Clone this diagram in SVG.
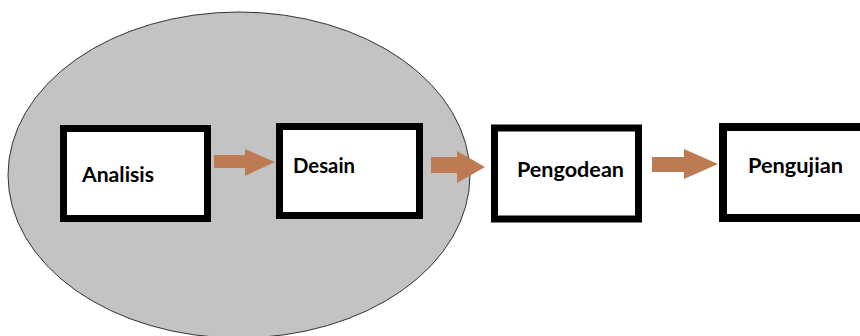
<svg xmlns="http://www.w3.org/2000/svg" width="860" height="336" viewBox="0 0 860 336">
<style>
.box{fill:#fff;stroke:#000;stroke-width:7}
.lbl{font-family:Lato,"Open Sans","Liberation Sans",sans-serif;font-weight:bold;font-size:21px;fill:#000}
.arr{fill:#be7a52}
</style>
<rect width="860" height="336" fill="#fff"/>
<g id="scope">
<ellipse cx="239" cy="175" rx="231" ry="163" fill="#c3c3c3" stroke="#333" stroke-width="1"/>
</g>
<g id="connectors">
<polygon class="arr" points="214,155 245,155 245,149 275,162 245,176 245,168 214,168"/>
<polygon class="arr" points="431,157 457,157 457,151 485,167 457,183 457,173 431,173"/>
<polygon class="arr" points="652,157 684,157 684,149 718,164 684,179 684,172 652,172"/>
</g>
<g id="analisis">
<rect class="box" x="63.5" y="128.5" width="144" height="90"/>
<text class="lbl" x="82" y="182" textLength="72" lengthAdjust="spacingAndGlyphs">Analisis</text>
</g>
<g id="desain">
<rect class="box" x="279.5" y="126.5" width="140" height="89"/>
<text class="lbl" x="293" y="173" textLength="62" lengthAdjust="spacingAndGlyphs">Desain</text>
</g>
<g id="pengodean">
<rect class="box" x="494.5" y="128" width="144" height="91"/>
<text class="lbl" x="517" y="177" textLength="107" lengthAdjust="spacingAndGlyphs">Pengodean</text>
</g>
<g id="pengujian">
<rect class="box" x="723" y="127" width="150" height="91" style="stroke-width:8"/>
<text class="lbl" x="748" y="173" textLength="95" lengthAdjust="spacingAndGlyphs">Pengujian</text>
</g>
</svg>
